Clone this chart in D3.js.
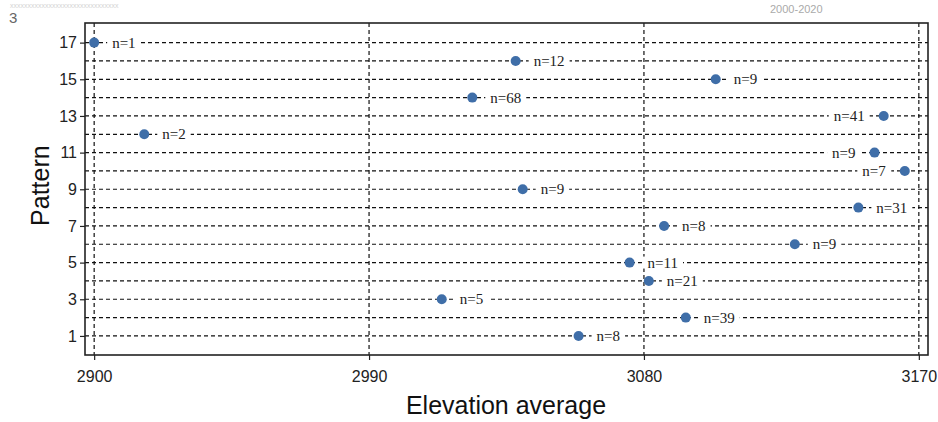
<!DOCTYPE html>
<html lang="en">
<head>
    <meta charset="UTF-8">
    <title>Pattern vs Elevation average</title>
    <script src="https://d3js.org/d3.v7.min.js"></script>
    <style>
        body {
            margin: 0;
            background-color: #ffffff;
        }
        .tick-label {
            font-family: "Liberation Sans", Arial, sans-serif;
            font-size: 16px;
            fill: #222;
        }
        .axis-title {
            font-family: "Liberation Sans", Arial, sans-serif;
            font-size: 25px;
            fill: #111;
        }
        .n-label {
            font-family: "Liberation Serif", "Times New Roman", serif;
            font-size: 15px;
            fill: #222;
        }
    </style>
</head>
<body>
    <svg id="chart" width="938" height="422"></svg>

    <script>
        // Pattern number of each point (y axis)
        const patterns = [17, 16, 15, 14, 13, 12, 11, 10, 9, 8, 7, 6, 5, 4, 3, 2, 1];
        // Average elevation of each pattern (x axis)
        const elevation = [2900, 3038, 3103.5, 3023.8, 3158.5, 2916.4, 3155.5, 3165.4, 3040.3,
                           3150.2, 3086.6, 3129.4, 3075.3, 3081.6, 3013.8, 3093.7, 3058.6];
        // Sample count shown next to each point
        const counts = [1, 12, 9, 68, 41, 2, 9, 7, 9, 31, 8, 9, 11, 21, 5, 39, 8];

        const xTicks = [2900, 2990, 3080, 3170];
        const yTicks = [1, 3, 5, 7, 9, 11, 13, 15, 17];
        const gridRows = d3.range(1, 18);

        const svg = d3.select("#chart");

        const plot = { left: 85, right: 928, top: 23, bottom: 355 };

        const x = d3.scaleLinear()
            .domain([2897, 3173])
            .range([plot.left, plot.right]);

        const y = d3.scaleLinear()
            .domain([-0.04, 18.07])
            .range([plot.bottom, plot.top]);

        // labels beyond this elevation sit on the left of their point
        const leftSide = d => d.e > 3152;

        // faint header remnants at the very top
        svg.append("text")
            .attr("x", 10).attr("y", 8)
            .style("font-family", "Liberation Sans, Arial, sans-serif")
            .style("font-size", "7px")
            .style("fill", "#d4d4d4")
            .text("xxxxxxxxxxxxxxxxxxxxxxxxxxxxxxx");
        svg.append("text")
            .attr("x", 770).attr("y", 13)
            .style("font-family", "Liberation Sans, Arial, sans-serif")
            .style("font-size", "11px")
            .style("fill", "#aaa")
            .text("2000-2020");
        svg.append("text")
            .attr("x", 9).attr("y", 23)
            .style("font-family", "Liberation Sans, Arial, sans-serif")
            .style("font-size", "15px")
            .style("fill", "#666")
            .text("3");

        // Horizontal dashed grid lines
        svg.append("g")
            .selectAll("line")
            .data(gridRows)
            .join("line")
            .attr("x1", plot.left)
            .attr("x2", plot.right)
            .attr("y1", d => y(d))
            .attr("y2", d => y(d))
            .attr("stroke", "#111")
            .attr("stroke-width", 1.2)
            .attr("stroke-dasharray", "4,3");

        // Vertical dashed grid lines
        svg.append("g")
            .selectAll("line")
            .data(xTicks)
            .join("line")
            .attr("x1", d => x(d))
            .attr("x2", d => x(d))
            .attr("y1", plot.top)
            .attr("y2", plot.bottom)
            .attr("stroke", "#111")
            .attr("stroke-width", 1.2)
            .attr("stroke-dasharray", "4,3");

        // Frame
        svg.append("rect")
            .attr("x", plot.left)
            .attr("y", plot.top)
            .attr("width", plot.right - plot.left)
            .attr("height", plot.bottom - plot.top)
            .attr("fill", "none")
            .attr("stroke", "#222")
            .attr("stroke-width", 1.6);

        // Y axis
        const yAxis = svg.append("g")
            .attr("transform", `translate(${plot.left},0)`)
            .call(d3.axisLeft(y).tickValues(yTicks).tickSize(5).tickPadding(3));
        yAxis.select(".domain").remove();
        yAxis.selectAll("line").attr("stroke", "#222").attr("stroke-width", 1.2);
        yAxis.selectAll("text").attr("class", "tick-label").attr("fill", null);

        // X axis
        const xAxis = svg.append("g")
            .attr("transform", `translate(0,${plot.bottom})`)
            .call(d3.axisBottom(x).tickValues(xTicks).tickFormat(d3.format("d")).tickSize(5).tickPadding(11));
        xAxis.select(".domain").remove();
        xAxis.selectAll("line").attr("stroke", "#222").attr("stroke-width", 1.2);
        xAxis.selectAll("text").attr("class", "tick-label").attr("fill", null);

        // Axis titles
        svg.append("text")
            .attr("class", "axis-title")
            .attr("text-anchor", "middle")
            .attr("x", 506)
            .attr("y", 414)
            .text("Elevation average");

        svg.append("text")
            .attr("class", "axis-title")
            .attr("text-anchor", "middle")
            .attr("transform", `translate(49,${y(9.2)})rotate(-90)`)
            .text("Pattern");

        const points = patterns.map((p, i) => ({ p, e: elevation[i], n: counts[i] }));

        // n= labels, with a white box so the dashed line breaks around them
        const labels = svg.append("g")
            .selectAll("g")
            .data(points)
            .join("g")
            .attr("transform", d => {
                const dx = leftSide(d) ? -19 : 18;
                return `translate(${x(d.e) + dx},${y(d.p)})`;
            });

        labels.append("text")
            .attr("class", "n-label")
            .attr("dy", "0.33em")
            .attr("text-anchor", d => leftSide(d) ? "end" : "start")
            .text(d => `n=${d.n}`);

        labels.each(function() {
            const g = d3.select(this);
            const box = g.select("text").node().getBBox();
            g.insert("rect", "text")
                .attr("x", box.x - 5)
                .attr("y", box.y + 2)
                .attr("width", box.width + 10)
                .attr("height", box.height - 4)
                .attr("fill", "#ffffff");
        });

        // Points
        svg.append("g")
            .selectAll("circle")
            .data(points)
            .join("circle")
            .attr("cx", d => x(d.e))
            .attr("cy", d => y(d.p))
            .attr("r", 5)
            .attr("fill", "#3f6ea8");
    </script>
</body>
</html>
